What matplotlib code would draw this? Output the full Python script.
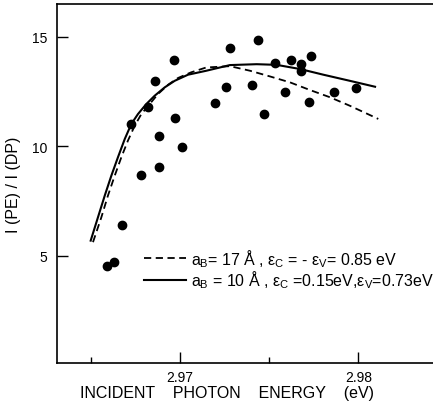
import matplotlib
matplotlib.use("Agg")
import matplotlib.pyplot as plt
from matplotlib.ticker import FixedLocator

main_font = 'Liberation Sans'
plt.rcParams['font.family'] = [main_font, 'DejaVu Sans']
plt.rcParams['mathtext.fontset'] = 'custom'
plt.rcParams['mathtext.rm'] = main_font
plt.rcParams['mathtext.it'] = main_font

# measured points
pts_E = [2.96592, 2.96630, 2.96673, 2.96723, 2.96783, 2.96818, 2.96860, 2.96884, 2.96884,
         2.96966, 2.96970, 2.97009, 2.97196, 2.97258, 2.97282, 2.97402, 2.97436, 2.97469,
         2.97531, 2.97591, 2.97624, 2.97680, 2.97680, 2.97722, 2.97736, 2.97862, 2.97987]
pts_R = [4.52, 4.73, 6.40, 11.01, 8.68, 11.80, 12.96, 10.45, 9.06,
         13.92, 11.29, 9.98, 11.99, 12.72, 14.50, 12.79, 14.86, 11.47,
         13.80, 12.49, 13.92, 13.77, 13.43, 12.02, 14.13, 12.46, 12.64]

# theory curve: a_B = 17 A (dashed)
dash_E = [2.96512, 2.96559, 2.96596, 2.96634, 2.96671, 2.96708, 2.96746, 2.96783,
          2.96830, 2.96877, 2.96933, 2.96989, 2.97063, 2.97147, 2.97280, 2.97393,
          2.97505, 2.97617, 2.97729, 2.97841, 2.97953, 2.98112]
dash_R = [5.62, 6.76, 7.75, 8.66, 9.50, 10.26, 10.94, 11.47,
          11.93, 12.39, 12.81, 13.12, 13.38, 13.60, 13.66, 13.45,
          13.19, 12.92, 12.57, 12.24, 11.85, 11.25]

# theory curve: a_B = 10 A (solid)
sol_E = [2.96499, 2.96540, 2.96578, 2.96615, 2.96652, 2.96690, 2.96727, 2.96764,
         2.96811, 2.96858, 2.96914, 2.96970, 2.97045, 2.97147, 2.97280, 2.97430,
         2.97542, 2.97673, 2.97804, 2.97953, 2.98094]
sol_R = [5.69, 6.76, 7.75, 8.66, 9.50, 10.33, 11.02, 11.47,
         11.93, 12.31, 12.69, 12.99, 13.27, 13.45, 13.71, 13.75,
         13.72, 13.53, 13.27, 12.99, 12.72]

x_ticks = [2.97, 2.98]
x_tick_labels = ['2.97', '2.98']
x_minor = [2.965, 2.975]
y_ticks = [5, 10, 15]
y_tick_labels = ['5', '10', '15']

label_dash = r"$a_{\rm B}$= 17 Å , $\varepsilon_{\rm C}$ = - $\varepsilon_{\rm V}$= 0.85 eV"
label_sol = r"$a_{\rm B}$ = 10 Å , $\varepsilon_{\rm C}$ =0.15eV,$\varepsilon_{\rm V}$=0.73eV"

fig = plt.figure(figsize=(4.33, 4.06), dpi=100)
ax = fig.add_axes([0.1316, 0.1034, 0.8684, 0.8843])

ax.plot(pts_E, pts_R, 'o', color='black', ms=6, zorder=3)
l1, = ax.plot(dash_E, dash_R, '--', color='black', lw=1.3, dashes=(4, 2.5), label=label_dash)
l2, = ax.plot(sol_E, sol_R, '-', color='black', lw=1.5, label=label_sol)

ax.set_xlim(2.96310, 2.98419)
ax.set_ylim(0.1, 16.5)

ax.xaxis.set_major_locator(FixedLocator(x_ticks))
ax.set_xticklabels(x_tick_labels, fontsize=10)
ax.xaxis.set_minor_locator(FixedLocator(x_minor))
ax.yaxis.set_major_locator(FixedLocator(y_ticks))
ax.set_yticklabels(y_tick_labels, fontsize=10)
ax.tick_params(axis='both', which='major', direction='in', length=8, width=1)
ax.tick_params(axis='x', which='minor', direction='in', length=4, width=1)
ax.tick_params(axis='x', pad=5)
ax.tick_params(axis='y', pad=7)

ax.spines['right'].set_visible(False)
for s in ['left', 'bottom', 'top']:
    ax.spines[s].set_linewidth(1.2)

ax.set_xlabel("INCIDENT    PHOTON    ENERGY    (eV)", fontsize=11.5)
ax.xaxis.set_label_coords(0.452, -0.062)
ax.set_ylabel("I (PE) / I (DP)", fontsize=11.5, labelpad=8)

ax.legend(handles=[l1, l2], loc='upper left', bbox_to_anchor=(144/433, 1 - 248/406),
          bbox_transform=fig.transFigure, frameon=False, fontsize=11.5,
          handlelength=2.6, handletextpad=0.35, labelspacing=0.0, borderpad=0, borderaxespad=0)

fig.savefig("out.png", dpi=100)
